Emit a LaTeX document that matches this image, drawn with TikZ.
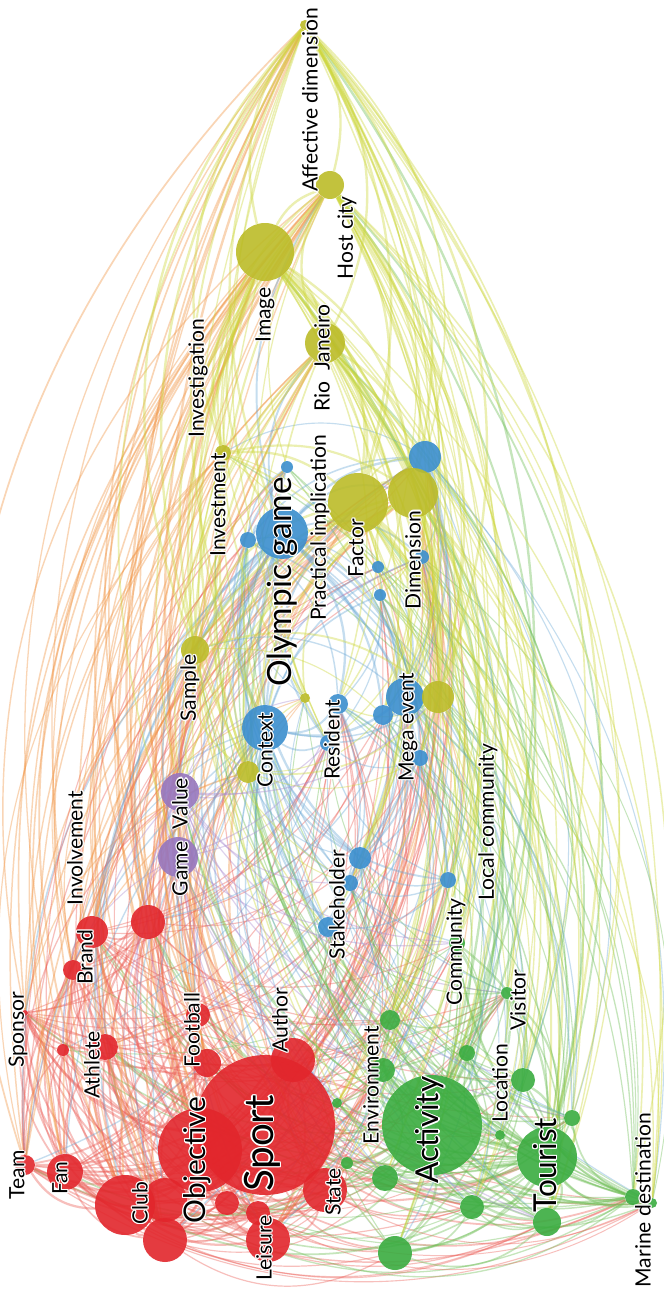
\documentclass[tikz,border=0pt]{standalone}
\usepackage{fontspec}
\setmainfont{Lato}
\definecolor{cR}{RGB}{226,38,44}
\definecolor{cG}{RGB}{58,172,64}
\definecolor{cB}{RGB}{58,142,206}
\definecolor{cP}{RGB}{150,118,190}
\definecolor{cY}{RGB}{188,188,40}
\definecolor{eR}{RGB}{236,95,88}
\definecolor{eG}{RGB}{110,190,85}
\definecolor{eB}{RGB}{110,170,215}
\definecolor{eP}{RGB}{170,140,210}
\definecolor{eY}{RGB}{205,215,60}
\definecolor{eO}{RGB}{242,150,70}
\def\pRY{RY}\def\pYR{YR}
\newcommand\hcopy[3]{\rlap{\hspace*{#1}\raisebox{#2}{\textcolor{white}{#3}}}}
\newcommand\halo[1]{\hcopy{.7pt}{0pt}{#1}\hcopy{-.7pt}{0pt}{#1}\hcopy{0pt}{.7pt}{#1}\hcopy{0pt}{-.7pt}{#1}\hcopy{.5pt}{.5pt}{#1}\hcopy{-.5pt}{.5pt}{#1}\hcopy{.5pt}{-.5pt}{#1}\hcopy{-.5pt}{-.5pt}{#1}#1}
\pgfdeclarelayer{bg}
\pgfdeclarelayer{edges}
\pgfsetlayers{bg,edges,main}
\tikzset{
  kw/.style={circle, inner sep=0pt, fill opacity=0.9, draw=none},
  lbl/.style={rotate=90, inner sep=0pt, text=black},
  edge/.style={draw opacity=0.4}
}
\begin{document}
\begin{tikzpicture}[x=0.02cm,y=-0.02cm]
\useasboundingbox (0,0) rectangle (663,1294);
\begin{pgfonlayer}{bg}
\fill[white] (0,0) rectangle (663,1294);
\end{pgfonlayer}
\gdef\allnodes{}
\foreach \n/\x/\y/\r/\c/\w in {
 sport/265/1125/70/R/1.0, objective/200/1150/42/R/0.9, author/293/1060/22/R/0.6,
 football/198/1015/12/R/0.5, footb2/207/1063/14/R/0.45, brand/92/932/16/R/0.5,
 brand2/73/970/10/R/0.35, involv/148/922/17/R/0.5, sponsor/25/1013/3/R/0.5,
 athlete/105/1047/13/R/0.45, athl2/63/1050/6/R/0.3, team/25/1165/10/R/0.55,
 fan/65/1172/18/R/0.5, club/125/1205/30/R/0.7, club2/165/1200/22/R/0.5,
 club3/165/1240/22/R/0.5, obj2/227/1203/12/R/0.35, leisure/268/1240/22/R/0.55,
 leis2/258/1213/12/R/0.35, state/325/1190/22/R/0.5,
 activity/432/1125/50/G/1.0, tourist/547/1157/30/G/0.85, marine/633/1197/8/G/0.6,
 marine2/652/1203/5/G/0.35, envir/390/1020/10/G/0.45, envir2/383/1070/12/G/0.45,
 location/523/1080/12/G/0.5, loc2/467/1053/8/G/0.35, visitor/507/993/6/G/0.4,
 community/457/943/8/G/0.45, g1/385/1178/13/G/0.4, g2/472/1207/12/G/0.4,
 g3/395/1253/17/G/0.5, g4/547/1222/14/G/0.45, g5/572/1118/8/G/0.4,
 g6/500/1135/5/G/0.3, g7/347/1163/6/G/0.3, g8/337/1103/5/G/0.3,
 olympic/282/533/26/B/0.9, ol2/248/540/8/B/0.4, ol3/287/467/6/B/0.35,
 dimb/425/457/16/B/0.5, b1/378/567/6/B/0.3, b2/380/595/6/B/0.3, b3/422/557/7/B/0.3,
 context/265/728/23/B/0.7, resident/338/704/10/B/0.45, res2/328/743/8/B/0.35,
 mega/405/697/19/B/0.6, mega2/383/715/10/B/0.4, mega3/420/758/8/B/0.35,
 stake/360/858/11/B/0.45, stake2/350/883/8/B/0.35, stake3/328/927/10/B/0.4,
 localc/448/880/8/B/0.4,
 value/180/792/19/P/0.55, game/178/857/20/P/0.55,
 affect/305/25/5/Y/1.0, host/330/185/14/Y/0.75, image/265/252/29/Y/0.95,
 rio/325/343/20/Y/0.75, invest/223/453/8/Y/0.45, factor/358/503/30/Y/0.9,
 dimension/413/493/25/Y/0.8, sample/195/650/14/Y/0.55, megay/438/697/16/Y/0.55,
 contexty/248/772/11/Y/0.45, y1/305/698/5/Y/0.3}{
  \node[kw, minimum size=\r*0.04cm, fill=c\c] (\n) at (\x,\y) {};
  \expandafter\xdef\csname px@\n\endcsname{\x}
  \expandafter\xdef\csname py@\n\endcsname{\y}
  \expandafter\xdef\csname pc@\n\endcsname{\c}
  \expandafter\xdef\csname pw@\n\endcsname{\w}
  \ifx\allnodes\empty\xdef\allnodes{\n}\else\xdef\allnodes{\allnodes,\n}\fi
}
\begin{pgfonlayer}{edges}
\pgfmathsetseed{4242}
\foreach \a [count=\i] in \allnodes {
 \foreach \b [count=\j] in \allnodes {
  \ifnum\j>\i\relax
   \edef\ca{\csname pc@\a\endcsname}\edef\cb{\csname pc@\b\endcsname}
   \ifx\ca\cb\def\kf{2.4}\else\def\kf{1.05}\fi
   \pgfmathsetmacro\pp{\csname pw@\a\endcsname*\csname pw@\b\endcsname*\kf}
   \pgfmathtruncatemacro\hit{rnd<\pp}
   \ifnum\hit=1
    \pgfmathsetmacro\dx{(\csname px@\b\endcsname-\csname px@\a\endcsname)/100}
    \pgfmathsetmacro\dy{(\csname py@\b\endcsname-\csname py@\a\endcsname)/100}
    \pgfmathsetmacro\mx{(\csname px@\b\endcsname+\csname px@\a\endcsname)/200-3.3}
    \pgfmathsetmacro\my{(\csname py@\b\endcsname+\csname py@\a\endcsname)/200-7.0}
    \pgfmathsetmacro\crs{\dy*\mx-\dx*\my}
    \pgfmathsetmacro\bang{(\crs>0?1:-1)*(20+12*rnd)}
    \pgfmathsetmacro\lw{0.45+0.9*min(\pp,1)}
    \ifx\ca\cb\edef\ec{e\ca}\else
     \edef\pr{\ca\cb}
     \ifx\pr\pRY\def\ec{eO}\else\ifx\pr\pYR\def\ec{eO}\else
      \pgfmathtruncatemacro\hv{\csname pw@\a\endcsname>=\csname pw@\b\endcsname}
      \ifnum\hv=1 \edef\ec{e\ca}\else\edef\ec{e\cb}\fi
     \fi\fi
    \fi
    \draw[edge, draw=\ec, line width=\lw pt] (\a) to[bend left=\bang] (\b);
   \fi
  \fi
 }
}
\end{pgfonlayer}
\foreach \t/\x/\y/\s [count=\k] in {
 Affective dimension/310/100/12, Host city/347/238/12, Image/265/315/12,
 Rio\hspace{.5em}Janeiro/322/358/12, Investigation/198/378/12, Investment/218/505/12,
 Practical implication/320/528/12, Olympic game/282/582/19, Factor/356/548/12,
 Dimension/413/560/12, Sample/190/688/12, Context/265/750/12, Resident/332/740/12,
 Mega event/408/727/12, Local community/488/822/12, Involvement/75/848/12,
 Game\hspace{.6em}Value/180/837/12, Brand/85/957/12, Stakeholder/337/905/12,
 Community/456/952/12, Visitor/518/1000/12, Sponsor/18/1030/12, Athlete/92/1065/12,
 Football/192/1030/12, Author/280/1020/12, Environment/371/1085/12,
 Location/500/1083/12, Team/17/1175/12, Fan/60/1178/12, Club/140/1203/12,
 Objective/197/1160/17, Sport/262/1143/23, Leisure/264/1248/12, State/333/1192/12,
 Activity/430/1130/18, Tourist/545/1165/18, Marine destination/643/1200/12}{
  \node[lbl, font=\fontsize{\s}{\s}\selectfont] (L\k) at (\x,\y) {\halo{\t}};
}
\end{tikzpicture}
\end{document}
